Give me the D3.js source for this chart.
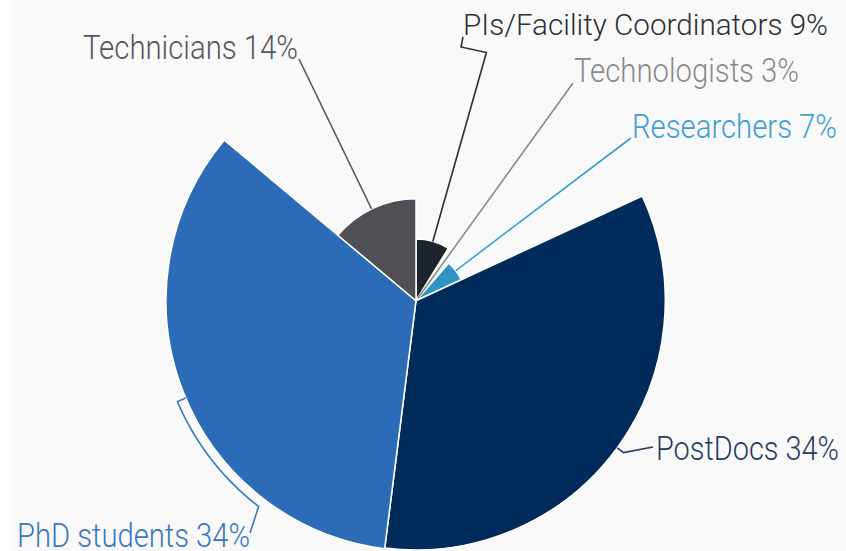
<!DOCTYPE html>
<html>
<head>
<meta charset="utf-8">
<script src="https://cdn.jsdelivr.net/npm/d3@7"></script>
<style>
  body { margin: 0; background: #f9f9f9; }
  svg { display: block; }
</style>
</head>
<body>
<script>
const width = 846
const height = 551

// data
const categories = ["PIs/Facility Coordinators", "Technologists", "Researchers", "PostDocs", "PhD students", "Technicians"]
const shares = [8.8, 2.6, 6.7, 33.9, 34.1, 13.9]        // slice angle
const sizes = [8.4, 0.6, 6.8, 34.0, 34.1, 13.9]         // slice radius (z)
const shownPct = ["9%", "3%", "7%", "34%", "34%", "14%"]

const sliceColors = ["#1e242c", "#8f8f8f", "#2f93c6", "#002b5b", "#2c6cb7", "#4e5055"]
const labelColors = ["#2b3037", "#8a8a8a", "#3b9ed4", "#1f3d63", "#3a77c0", "#55575b"]

// label placement: x, baseline y, width, font size
const labelBox = [
  { x: 463, y: 35, w: 365, size: 29 },
  { x: 574, y: 82, w: 225, size: 33 },
  { x: 632, y: 138, w: 205, size: 33 },
  { x: 656, y: 460, w: 183, size: 33 },
  { x: 17, y: 547, w: 233, size: 33 },
  { x: 83, y: 59, w: 215, size: 33 }
]

const cx = 416, cy = 300.7
const rScale = d3.scaleLinear().domain([0, 34.1]).range([0, 250])

const svg = d3.select("body").append("svg")
    .attr("width", width)
    .attr("height", height)

svg.append("rect")
    .attr("width", width).attr("height", height)
    .style("fill", "#f9f9f9")
svg.append("rect")
    .attr("width", 12).attr("height", height)
    .style("fill", "#fdfdfd")

const rows = categories.map((c, i) => ({ name: c, share: shares[i], z: sizes[i], i }))
const pie = d3.pie().sort(null).value(d => d.share)
const arcs = pie(rows)

const g = svg.append("g").attr("transform", `translate(${cx},${cy})`)

g.selectAll("path.slice")
  .data(arcs)
  .join("path")
    .attr("class", "slice")
    .attr("d", d => d3.arc().innerRadius(0).outerRadius(rScale(d.data.z))(d))
    .style("fill", d => sliceColors[d.data.i])
    .style("stroke", "#ffffff")
    .style("stroke-width", 1.5)
    .style("stroke-linejoin", "round")

// polar -> local xy (angle clockwise from 12 o'clock)
const pt = (a, r) => [r * Math.sin(a), -r * Math.cos(a)]
const toLocal = (p) => [p[0] - cx, p[1] - cy]
const deg = Math.PI / 180

const connectors = arcs.map(d => {
  const i = d.data.i
  const r = rScale(d.data.z)
  const mid = (d.startAngle + d.endAngle) / 2
  if (i === 0) {
    // radial out, then hook back to the label
    return [pt(mid, r), pt(mid, 258), toLocal([461, 47]), toLocal([463, 37])]
  }
  if (i === 3) {
    return [pt(mid, r), pt(mid, r + 8), toLocal([653, 447])]
  }
  if (i === 4) {
    const a0 = mid - 1.5 * deg
    const pts = [pt(a0, r), pt(a0, r + 8)]
    const a1 = 217.4 * deg
    d3.range(0, 21).forEach(k => pts.push(pt(a0 + (a1 - a0) * k / 20, r + 9)))
    pts.push(toLocal([250, 533]))
    return pts
  }
  // straight line aimed at the label corner
  const ends = { 1: [573, 83], 2: [631, 138], 5: [299, 59] }
  const e = toLocal(ends[i])
  const a = Math.atan2(e[0], -e[1])
  return [pt(a, i === 1 ? 3 : r), e]
})

g.selectAll("path.conn")
  .data(connectors)
  .join("path")
    .attr("class", "conn")
    .attr("d", d => d3.line()(d))
    .style("fill", "none")
    .style("stroke", (d, i) => labelColors[i])
    .style("stroke-width", 1.6)

svg.selectAll("text.lbl")
  .data(rows)
  .join("text")
    .attr("class", "lbl")
    .attr("x", d => labelBox[d.i].x)
    .attr("y", d => labelBox[d.i].y)
    .attr("font-size", d => labelBox[d.i].size + "px")
    .attr("font-family", "Roboto, sans-serif")
    .attr("font-weight", 300)
    .attr("textLength", d => labelBox[d.i].w)
    .attr("lengthAdjust", "spacingAndGlyphs")
    .style("fill", d => labelColors[d.i])
    .text(d => d.name + " " + shownPct[d.i])
</script>
</body>
</html>
